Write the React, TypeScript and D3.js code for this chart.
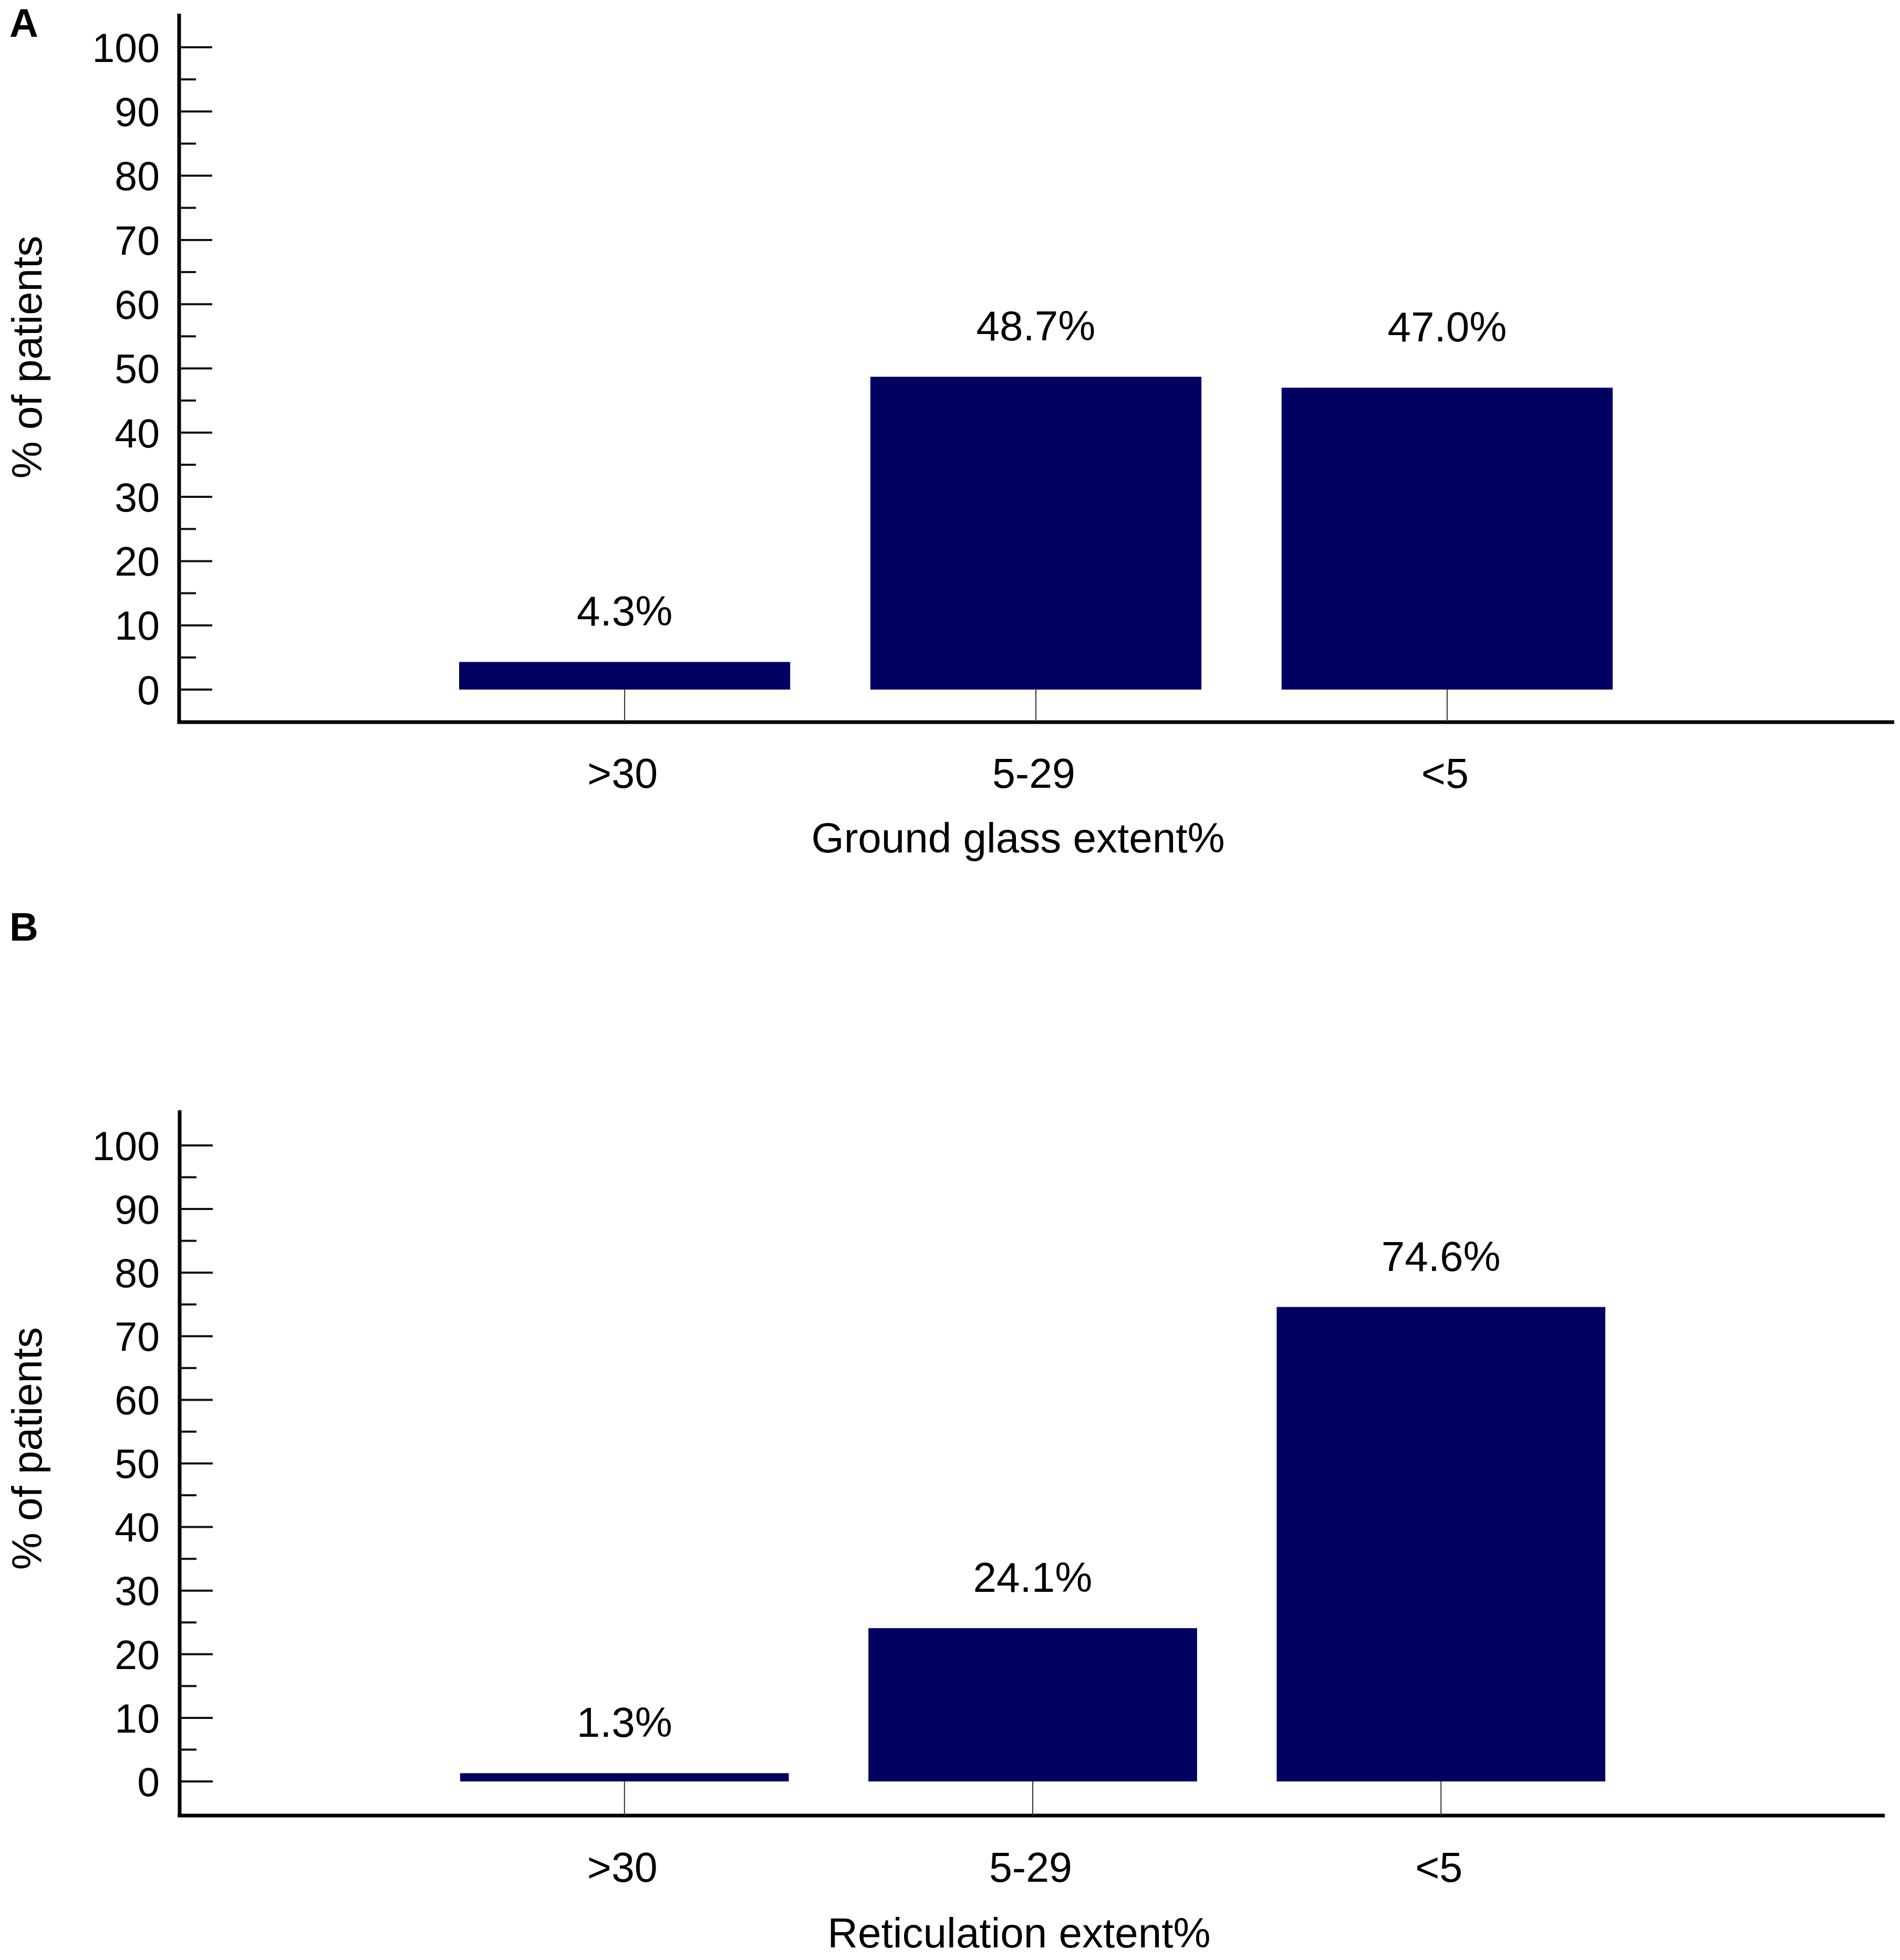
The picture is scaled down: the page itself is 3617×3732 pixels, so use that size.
import * as d3 from "d3";

// data
const categories = [">30", "5-29", "<5"];
const groundGlass = [4.3, 48.7, 47.0];
const reticulation = [1.3, 24.1, 74.6];
const yTicks = [0, 10, 20, 30, 40, 50, 60, 70, 80, 90, 100];
const panelLetters = ["A", "B"];
const xTitles = ["Ground glass extent%", "Reticulation extent%"];
const yTitle = "% of patients";

const W = 3617;
const H = 3732;
const BAR = "#000060";
const FONT = "'Liberation Sans', Arial, Helvetica, sans-serif";

// layout of the two stacked panels (pixels in the page)
// labelDy: the original nudged the 47.0% label up to line up with 48.7%
const layouts = [
  { axisX: 341, top: 26, y0: 1313, y100: 90, xAxisY: 1375, right: 3606, band: [874, 3070], catY: 1500, titleX: 1938, titleY: 1623, yTitleY: 680, letterY: 70, labelDy: [0, 0, -19] },
  { axisX: 342, top: 2114, y0: 3392, y100: 2181, xAxisY: 3457, right: 3588, band: [876, 3056], catY: 3583, titleX: 1940, titleY: 3708, yTitleY: 2758, letterY: 1791, labelDy: [0, 0, 0] },
];

const fmt = (v: number) => d3.format(".1f")(v) + "%";

const Panel = ({ idx, values }: { idx: number; values: number[] }) => {
  const L = layouts[idx];
  const x = d3
    .scaleBand()
    .domain(categories)
    .range(L.band as [number, number])
    .paddingInner(0.195)
    .paddingOuter(0);
  const y = d3.scaleLinear().domain([0, 100]).range([L.y0, L.y100]);
  const minor = y.ticks(20).filter((t) => !yTicks.includes(t));

  return (
    <g fontFamily={FONT} fill="#000">
      <text x={18} y={L.letterY} fontSize={76} fontWeight="bold">
        {panelLetters[idx]}
      </text>

      {/* y title */}
      <text
        transform={`translate(79,${L.yTitleY}) rotate(-90)`}
        textAnchor="middle"
        fontSize={80}
      >
        {yTitle}
      </text>

      {/* bars */}
      {values.map((v, i) => (
        <rect
          key={i}
          x={x(categories[i])}
          y={y(v)}
          width={x.bandwidth()}
          height={y(0) - y(v)}
          fill={BAR}
        />
      ))}

      {/* value labels */}
      {values.map((v, i) => (
        <text
          key={i}
          x={(x(categories[i]) ?? 0) + x.bandwidth() / 2}
          y={y(v) - 69 + L.labelDy[i]}
          textAnchor="middle"
          fontSize={80}
        >
          {fmt(v)}
        </text>
      ))}

      {/* y axis */}
      <line x1={L.axisX} x2={L.axisX} y1={L.top} y2={L.xAxisY + 3} stroke="#000" strokeWidth={7} />
      {yTicks.map((t) => (
        <g key={t}>
          <line x1={L.axisX} x2={L.axisX + 63} y1={y(t)} y2={y(t)} stroke="#111" strokeWidth={4} />
          <text x={304} y={y(t)} dy="0.36em" textAnchor="end" fontSize={77}>
            {t}
          </text>
        </g>
      ))}
      {minor.map((t) => (
        <line key={t} x1={L.axisX} x2={L.axisX + 32} y1={y(t)} y2={y(t)} stroke="#111" strokeWidth={4} />
      ))}

      {/* x axis */}
      <line x1={L.axisX - 3.5} x2={L.right} y1={L.xAxisY} y2={L.xAxisY} stroke="#000" strokeWidth={7} />
      {categories.map((c) => {
        const cx = (x(c) ?? 0) + x.bandwidth() / 2;
        return (
          <g key={c}>
            <line x1={cx} x2={cx} y1={y(0)} y2={L.xAxisY} stroke="#333" strokeWidth={2} />
            <text x={cx - 4} y={L.catY} textAnchor="middle" fontSize={79}>
              {c}
            </text>
          </g>
        );
      })}

      <text x={L.titleX} y={L.titleY} textAnchor="middle" fontSize={80}>
        {xTitles[idx]}
      </text>
    </g>
  );
};

export default function App() {
  return (
    <svg
      width={W}
      height={H}
      viewBox={`0 0 ${W} ${H}`}
      style={{ position: "absolute", left: 0, top: 0, background: "#fff" }}
    >
      <rect width={W} height={H} fill="#fff" />
      <Panel idx={0} values={groundGlass} />
      <Panel idx={1} values={reticulation} />
    </svg>
  );
}
